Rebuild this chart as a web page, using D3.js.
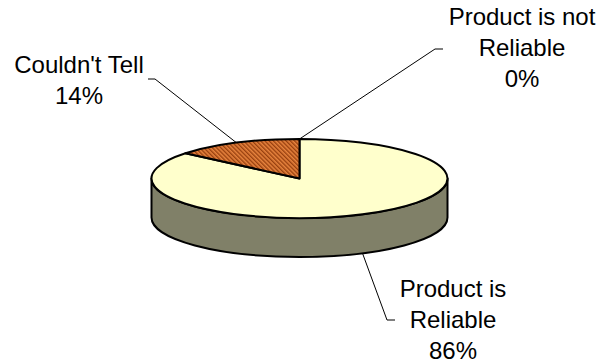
<!DOCTYPE html>
<html>
<head>
<meta charset="utf-8">
<script src="https://cdn.jsdelivr.net/npm/d3@7/dist/d3.min.js"></script>
<style>
  html, body { margin: 0; padding: 0; background: #fff; }
  svg { display: block; }
  text { font-family: Arial, "Liberation Sans", sans-serif; font-size: 24px; fill: #000; }
</style>
</head>
<body>
<svg id="chart" width="603" height="364"></svg>
<script>
// Survey answers: is the product reliable?
const categories = ["Product is Reliable", "Couldn't Tell", "Product is not Reliable"];
const values = [86, 14, 0];
const labelLines = [["Product is", "Reliable", "86%"], ["Couldn't Tell", "14%"], ["Product is not", "Reliable", "0%"]];

const topColors = { "Product is Reliable": "#FFFFCC", "Couldn't Tell": "url(#hatch)", "Product is not Reliable": "#9999FF" };
const sideColors = { "Product is Reliable": "#808068", "Couldn't Tell": "#8A4A20", "Product is not Reliable": "#666699" };

const svg = d3.select("#chart");
const W = 603, H = 364;

// Ellipse geometry of the tilted disc
const cx = 299.5, cy = 178.5, rx = 148, ry = 39.5, depth = 39;

// diagonal hatch for the "Couldn't Tell" slice
const defs = svg.append("defs");
const pat = defs.append("pattern")
  .attr("id", "hatch").attr("patternUnits", "userSpaceOnUse")
  .attr("width", 3).attr("height", 3)
  .attr("patternTransform", "rotate(-45)");
pat.append("rect").attr("width", 3).attr("height", 3).attr("fill", "#E8843E");
pat.append("rect").attr("width", 1.4).attr("height", 3).attr("fill", "#98400F");

const data = categories.map((c, i) => ({ name: c, value: values[i], lines: labelLines[i] }));
const arcs = d3.pie().sort(null).value(d => d.value).startAngle(0).endAngle(2 * Math.PI)(data);

// angle measured clockwise from 12 o'clock
const pt = (a, dy = 0) => [cx + rx * Math.sin(a), cy - ry * Math.cos(a) + dy];

function sideSegment(a0, a1) {
  // visible front wall lies between PI/2 and 3PI/2
  const s = Math.max(a0, Math.PI / 2), e = Math.min(a1, 3 * Math.PI / 2);
  if (e <= s) return null;
  const p0 = pt(s), p1 = pt(e), q1 = pt(e, depth), q0 = pt(s, depth);
  const large = (e - s) > Math.PI ? 1 : 0;
  return `M${p0}A${rx},${ry} 0 ${large} 1 ${p1}L${q1}A${rx},${ry} 0 ${large} 0 ${q0}Z`;
}

function topSlice(a0, a1) {
  const p0 = pt(a0), p1 = pt(a1);
  const large = (a1 - a0) > Math.PI ? 1 : 0;
  return `M${cx},${cy}L${p0}A${rx},${ry} 0 ${large} 1 ${p1}Z`;
}

const g = svg.append("g");

// side walls
arcs.forEach(d => {
  const p = sideSegment(d.startAngle, d.endAngle);
  if (p) g.append("path").attr("d", p)
    .attr("fill", sideColors[d.data.name])
    .attr("stroke", "#000").attr("stroke-width", 2).attr("stroke-linejoin", "round");
});

// top faces
arcs.filter(d => d.endAngle > d.startAngle).forEach(d => {
  g.append("path").attr("d", topSlice(d.startAngle, d.endAngle))
    .attr("fill", topColors[d.data.name])
    .attr("stroke", "#000").attr("stroke-width", 2).attr("stroke-linejoin", "round");
});

// label layout: text centre, first baseline, elbow, stub end
const labelLayout = {
  "Product is Reliable":     { x: 453, y: 297, elbow: [387, 320], stub: [395, 320], onSide: true },
  "Couldn't Tell":           { x: 79,  y: 73,  elbow: [155, 79],  stub: [148, 79] },
  "Product is not Reliable": { x: 522, y: 25,  elbow: [435, 49],  stub: [443, 49] }
};
const lineH = 31;

arcs.forEach(d => {
  const L = labelLayout[d.data.name];
  const mid = (d.startAngle + d.endAngle) / 2;
  const anchor = pt(mid, L.onSide ? depth : 0);
  svg.append("path")
    .attr("d", d3.line()([anchor, L.elbow, L.stub]))
    .attr("fill", "none").attr("stroke", "#000").attr("stroke-width", 1);
  const t = svg.append("text").attr("text-anchor", "middle");
  d.data.lines.forEach((s, i) => {
    t.append("tspan").attr("x", L.x).attr("y", L.y + i * lineH).text(s);
  });
});
</script>
</body>
</html>
